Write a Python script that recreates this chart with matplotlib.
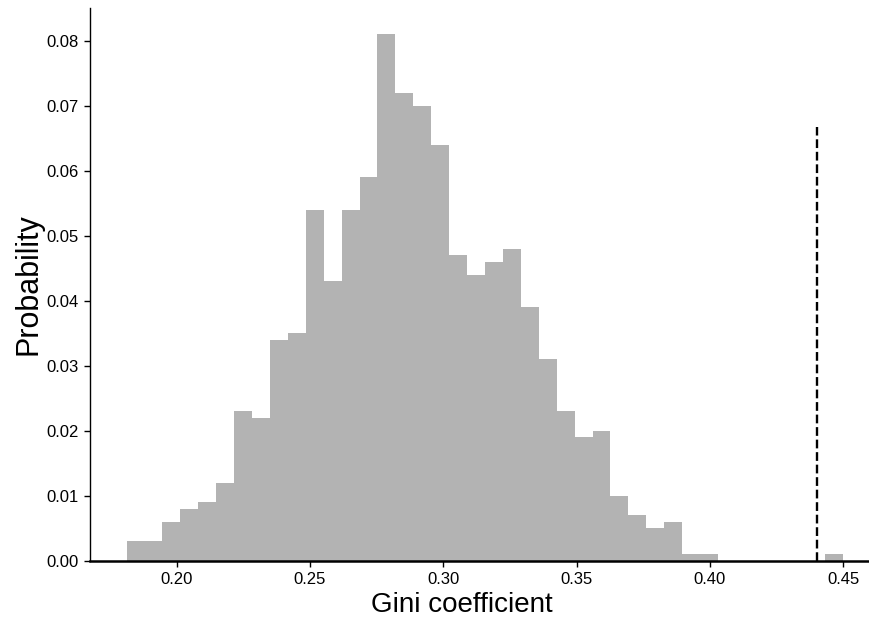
import numpy as np
import matplotlib
matplotlib.use("Agg")
import matplotlib.pyplot as plt

# ---- data ----
bin_start = 0.18125
bin_end = 0.45
n_bins = 40
probabilities = [0.003, 0.003, 0.006, 0.008, 0.009, 0.012, 0.023, 0.022, 0.034, 0.035,
                 0.054, 0.043, 0.054, 0.059, 0.081, 0.072, 0.070, 0.064, 0.047, 0.044,
                 0.046, 0.048, 0.039, 0.031, 0.023, 0.019, 0.020, 0.010, 0.007, 0.005,
                 0.006, 0.001, 0.001, 0.0, 0.0, 0.0, 0.0, 0.0, 0.0, 0.001]
observed_gini = 0.44
observed_line_height = 0.0667
x_ticks = [0.20, 0.25, 0.30, 0.35, 0.40, 0.45]
y_ticks = [0.00, 0.01, 0.02, 0.03, 0.04, 0.05, 0.06, 0.07, 0.08]
x_label = "Gini coefficient"
y_label = "Probability"

plt.rcParams['font.family'] = ['Liberation Sans', 'DejaVu Sans']

fig = plt.figure(figsize=(8.70, 6.18), dpi=100)
ax = fig.add_axes([90/870, 57/618, 780/870, 553/618])

edges = np.linspace(bin_start, bin_end, n_bins + 1)
centers = (edges[:-1] + edges[1:]) / 2
ax.hist(centers, bins=edges, weights=probabilities, color='#b3b3b3',
        histtype='stepfilled', linewidth=0)

ax.vlines(observed_gini, 0, observed_line_height, colors='black',
          linestyles='--', linewidth=1.7)

ax.set_xlim(0.1675, 0.46)
ax.set_ylim(0, max(probabilities) * 1.05)
ax.set_xticks(x_ticks)
ax.set_xticklabels([f"{v:.2f}" for v in x_ticks])
ax.set_yticks(y_ticks)
ax.set_yticklabels([f"{v:.2f}" for v in y_ticks])

ax.spines['top'].set_visible(False)
ax.spines['right'].set_visible(False)
ax.spines['left'].set_linewidth(1.0)
ax.spines['bottom'].set_linewidth(1.8)
ax.tick_params(axis='both', labelsize=12, length=4, width=1, pad=4)

ax.set_xlabel(x_label, fontsize=20, labelpad=3.5)
ax.xaxis.label.set_x((462 - 90) / 780)
ax.set_ylabel(y_label, fontsize=22, labelpad=2)

fig.savefig("out.png", dpi=100)
